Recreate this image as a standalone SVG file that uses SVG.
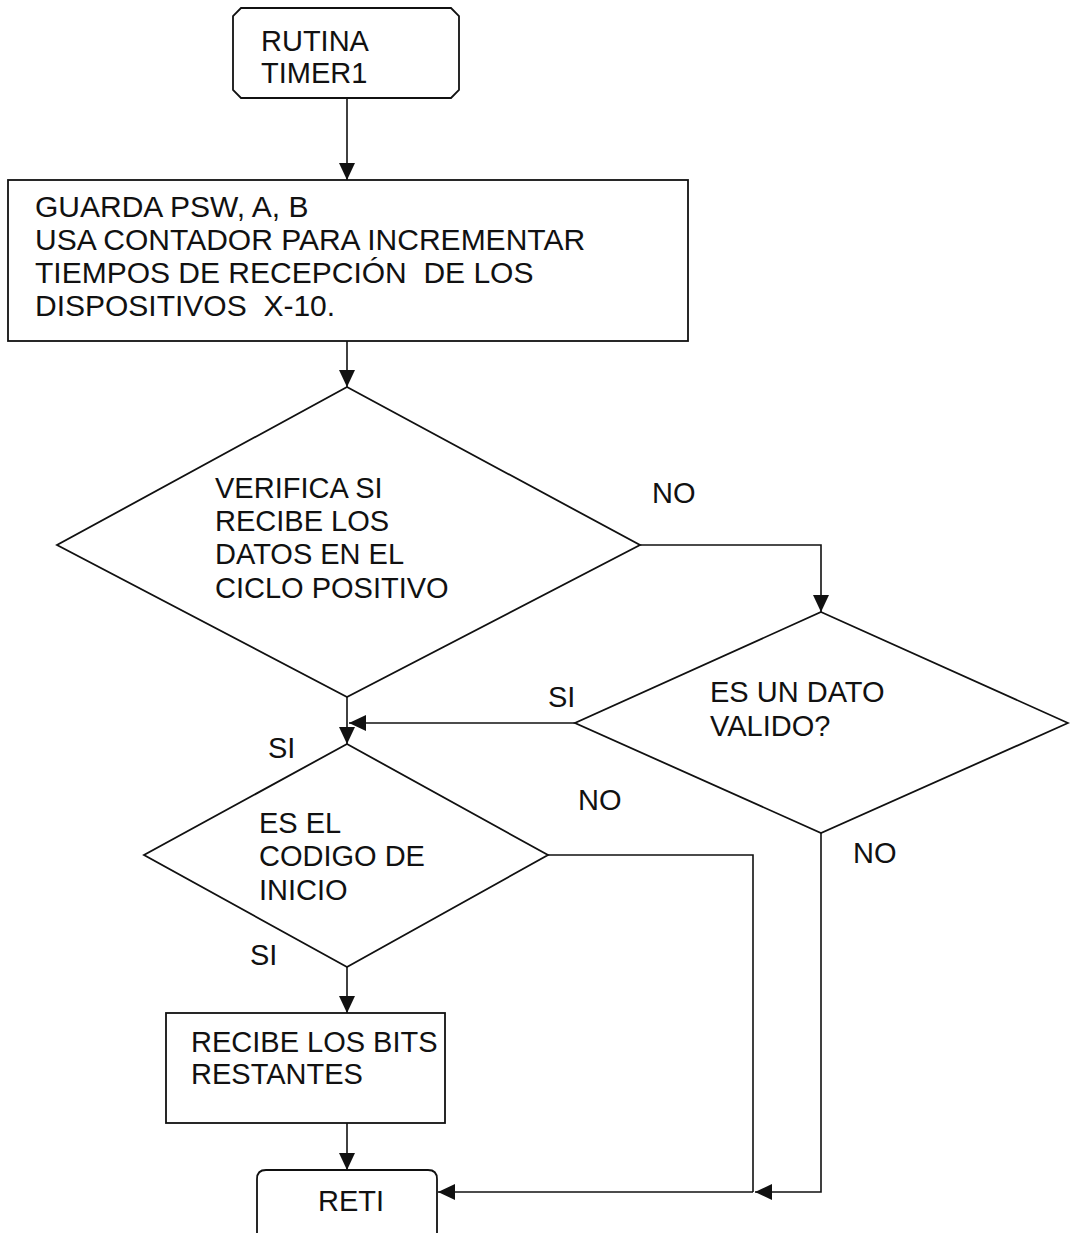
<svg xmlns="http://www.w3.org/2000/svg" width="1070" height="1233" viewBox="0 0 1070 1233">
<style>
  .shape { fill: none; stroke: #111; stroke-width: 1.8; }
  .conn { fill: none; stroke: #111; stroke-width: 1.6; }
  .t { font-family: "Liberation Sans", Arial, sans-serif; font-size: 29px; fill: #111; }
  .tb { font-size: 30px; }
</style>
<defs>
  <marker id="arrow" viewBox="0 0 17 16" refX="17" refY="8" markerWidth="17" markerHeight="16" orient="auto" markerUnits="userSpaceOnUse">
    <path d="M0,0 L17,8 L0,16 Z" fill="#111"/>
  </marker>
</defs>
<rect width="1070" height="1233" fill="#ffffff"/>

<g id="connectors">
  <path class="conn" d="M347,98 V180" marker-end="url(#arrow)"/>
  <path class="conn" d="M347,341 V387" marker-end="url(#arrow)"/>
  <path class="conn" d="M347,697 V744" marker-end="url(#arrow)"/>
  <path class="conn" d="M640,545 H821 V612" marker-end="url(#arrow)"/>
  <path class="conn" d="M575,723 H349" marker-end="url(#arrow)"/>
  <path class="conn" d="M347,967 V1013" marker-end="url(#arrow)"/>
  <path class="conn" d="M548,855 H753 V1192"/>
  <path class="conn" d="M821,833 V1192 H755" marker-end="url(#arrow)"/>
  <path class="conn" d="M753,1192 H438" marker-end="url(#arrow)"/>
  <path class="conn" d="M347,1123 V1170" marker-end="url(#arrow)"/>
</g>

<g id="start">
  <path class="shape" d="M241,8 H451 L459,16 V90 L451,98 H241 L233,90 V16 Z"/>
  <text class="t" x="261" y="51">RUTINA</text>
  <text class="t" x="261" y="83">TIMER1</text>
</g>

<g id="guarda">
  <rect class="shape" x="8" y="180" width="680" height="161"/>
  <text class="t tb" x="35" y="217">GUARDA PSW, A, B</text>
  <text class="t tb" x="35" y="250">USA CONTADOR PARA INCREMENTAR</text>
  <text class="t tb" x="35" y="283" xml:space="preserve">TIEMPOS DE RECEPCIÓN  DE LOS</text>
  <text class="t tb" x="35" y="316" xml:space="preserve">DISPOSITIVOS  X-10.</text>
</g>

<g id="verifica">
  <polygon class="shape" points="347,387 640,545 347,697 57,545"/>
  <text class="t" x="215" y="498">VERIFICA SI</text>
  <text class="t" x="215" y="531">RECIBE LOS</text>
  <text class="t" x="215" y="564">DATOS EN EL</text>
  <text class="t" x="215" y="598">CICLO POSITIVO</text>
</g>

<g id="valido">
  <polygon class="shape" points="821,612 1068,723 821,833 575,723"/>
  <text class="t" x="710" y="702">ES UN DATO</text>
  <text class="t" x="710" y="736">VALIDO?</text>
</g>

<g id="inicio">
  <polygon class="shape" points="347,744 548,855 347,967 144,855"/>
  <text class="t" x="259" y="833">ES EL</text>
  <text class="t" x="259" y="866">CODIGO DE</text>
  <text class="t" x="259" y="900">INICIO</text>
</g>

<g id="recibe">
  <rect class="shape" x="166" y="1013" width="279" height="110"/>
  <text class="t" x="191" y="1052">RECIBE LOS BITS</text>
  <text class="t" x="191" y="1084">RESTANTES</text>
</g>

<g id="reti">
  <path class="shape" d="M257,1240 V1179 Q257,1170 266,1170 H428 Q437,1170 437,1179 V1240"/>
  <text class="t" x="318" y="1211">RETI</text>
</g>

<g id="labels">
  <text class="t" x="652" y="503">NO</text>
  <text class="t" x="548" y="707">SI</text>
  <text class="t" x="268" y="758">SI</text>
  <text class="t" x="578" y="810">NO</text>
  <text class="t" x="853" y="863">NO</text>
  <text class="t" x="250" y="965">SI</text>
</g>
</svg>
